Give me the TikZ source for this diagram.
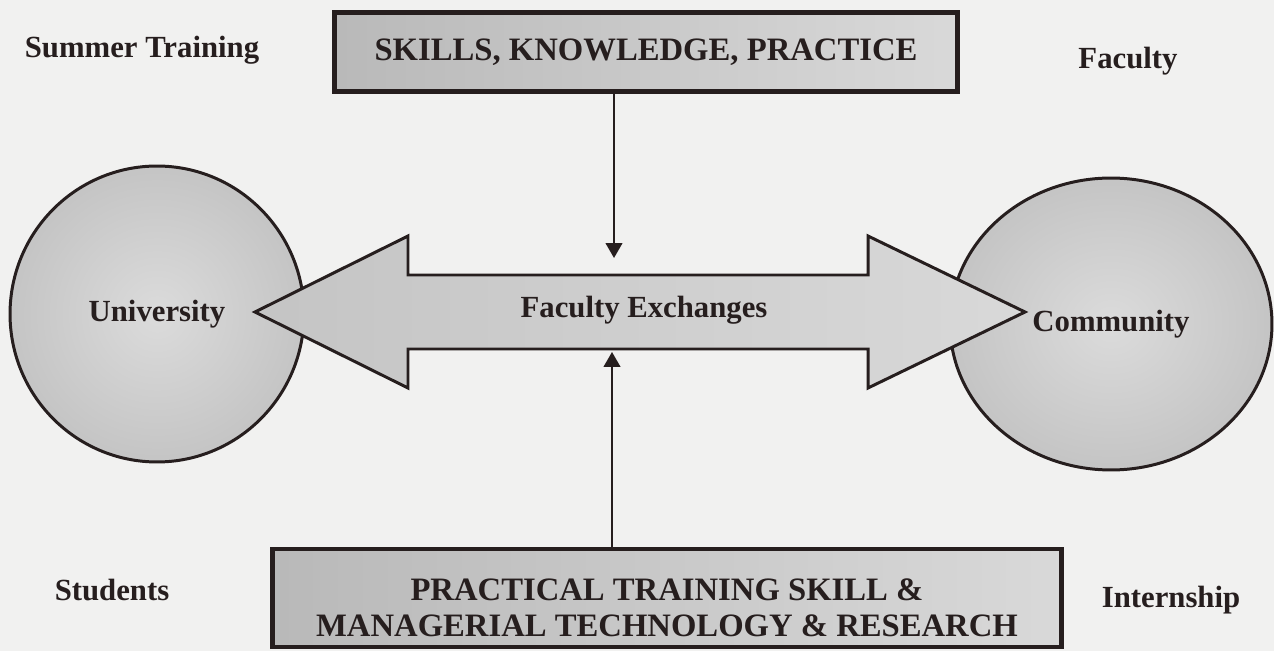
\documentclass[tikz,border=0pt]{standalone}
\usepackage{fontspec}
\setmainfont{Liberation Serif}
\usetikzlibrary{positioning,arrows.meta,shapes.geometric}

\definecolor{paper}{RGB}{241,241,240}
\definecolor{ink}{RGB}{38,30,30}

\begin{document}
\begin{tikzpicture}[
    x=0.02cm, y=-0.02cm,
    lbl/.style={font=\fontsize{17.5}{21}\selectfont\bfseries, text=ink},
    boxtxt/.style={font=\fontsize{18.6}{20.6}\selectfont\bfseries, text=ink, align=center},
    bigbox/.style={draw=ink, line width=2.4pt, left color=gray!55, right color=gray!30, inner sep=0pt},
    blob/.style={ellipse, draw=ink, line width=1.7pt, inner color=gray!28, outer color=gray!46,
                 font=\fontsize{17.5}{21}\selectfont\bfseries, text=ink, inner sep=0pt},
    bar/.style={draw=ink, line width=1.7pt, line join=miter, left color=gray!46, right color=gray!30},
    arr/.style={-{Triangle[length=8.5pt,width=9.5pt]}, line width=1.1pt, draw=ink}
]
\fill[paper] (0,0) rectangle (1274,651);
\useasboundingbox (0,0) rectangle (1274,651);

% the two ends
\node[blob, minimum width=5.88cm, minimum height=5.92cm] (univ) at (157,314) {University};
\node[blob, minimum width=6.44cm, minimum height=5.84cm] (comm) at (1111,324) {Community};

% double arrow between them
\coordinate (ltip) at (255,312);
\coordinate (rtip) at (1025,312);
\path[bar] (ltip) -- (408,236) -- (408,275) -- (868,275) -- (868,236) -- (rtip)
    -- (868,388) -- (868,349) -- (408,349) -- (408,388) -- cycle;
\node[lbl] (exch) at (644,310) {Faculty Exchanges};

% boxes above and below
\node[bigbox, minimum width=12.46cm, minimum height=1.58cm] (skills) at (646,52) {};
\node[boxtxt] (skillstxt) at (skills.center) {SKILLS, KNOWLEDGE, PRACTICE};
\node[bigbox, minimum width=15.78cm, minimum height=1.96cm] (train) at (667,598) {};
\node[boxtxt] (traintxt) at ([yshift=-0.2cm]train.center) {PRACTICAL TRAINING SKILL \&\\MANAGERIAL TECHNOLOGY \& RESEARCH};

% feeds into the bar
\coordinate (topend) at (614,258);
\coordinate (botend) at (612,352);
\draw[arr] (skills.south -| topend) -- (topend);
\draw[arr] (train.north -| botend) -- (botend);

% corner labels
\node[lbl] (summer) at (142,50)  {Summer Training};
\node[lbl] (fac)    at (1128,61) {Faculty};
\node[lbl] (stud)   at (112,590) {Students};
\node[lbl] (intern) at (1171,600) {Internship};
\end{tikzpicture}
\end{document}
